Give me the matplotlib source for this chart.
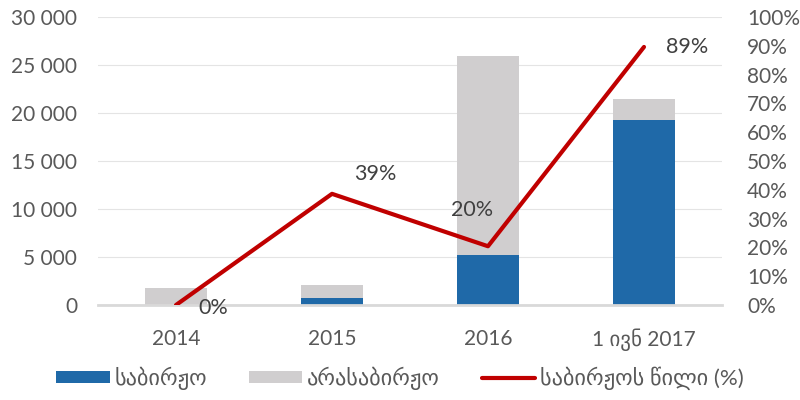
import matplotlib.pyplot as plt
import numpy as np
from matplotlib.ticker import FuncFormatter

plt.rcParams['font.family'] = ['Lato', 'DejaVu Sans']

categories = ['2014', '2015', '2016', '1 ივნ 2017']
exchange = [0, 780, 5250, 19250]          # საბირჟო
otc = [1770, 1300, 20650, 2250]           # არასაბირჟო
share = [0, 39, 20, 89]                   # საბირჟოს წილი (%)
share_pos = [0, 38.6, 20.4, 89.6]
label_offsets = [(16, -2), (16, 14), (4, 26), (16, 0)]

blue = '#1F69A8'
grey = '#D0CECF'
red = '#C00000'
txt = '#595959'

fig = plt.figure(figsize=(8, 4), dpi=100)
ax = fig.add_axes([0.1225, 0.2375, 0.78, 0.72])
x = np.arange(len(categories))

b1 = ax.bar(x, exchange, width=0.4, color=blue, label='საბირჟო', zorder=2)
b2 = ax.bar(x, otc, width=0.4, bottom=exchange, color=grey, label='არასაბირჟო', zorder=2)

ax.set_ylim(0, 30000)
ax.set_yticks(range(0, 30001, 5000))
ax.yaxis.set_major_formatter(FuncFormatter(lambda v, p: f'{int(v):,}'.replace(',', ' ')))
ax.set_xlim(-0.5, 3.5)
ax.set_xticks(x)
ax.set_xticklabels(categories)
ax.grid(axis='y', color='#E4E4E4', linewidth=0.8, zorder=0)
for s in ['top', 'left', 'right']:
    ax.spines[s].set_visible(False)
ax.spines['bottom'].set_color('#D9D9D9')
ax.spines['bottom'].set_linewidth(2)
ax.tick_params(axis='y', length=0, labelsize=15, colors=txt, pad=15)
ax.tick_params(axis='x', length=0, labelsize=15, colors=txt, pad=17)

ax2 = ax.twinx()
ln, = ax2.plot(x, share_pos, color=red, linewidth=3, label='საბირჟოს წილი (%)',
               solid_capstyle='round', zorder=3)
ax2.set_ylim(0, 100)
ax2.set_yticks(range(0, 101, 10))
ax2.yaxis.set_major_formatter(FuncFormatter(lambda v, p: f'{int(v)}%'))
for s in ax2.spines.values():
    s.set_visible(False)
ax2.tick_params(length=0, labelsize=15, colors=txt, pad=18)

for xi, yi, v, off in zip(x, share_pos, share, label_offsets):
    ax2.annotate(f'{v}%', (xi, yi), xytext=off, textcoords='offset points',
                 ha='left' if off[0] > 5 else 'right', va='center',
                 fontsize=15.5, color='#404040')

leg = fig.legend(handles=[b1, b2, ln], loc='lower center', bbox_to_anchor=(0.5, -0.025),
                 ncol=3, frameon=False, fontsize=16, handlelength=2.4,
                 handleheight=0.5, columnspacing=1.9, handletextpad=0.2)
for t in leg.get_texts():
    t.set_color(txt)

fig.savefig('out.png', dpi=100)
